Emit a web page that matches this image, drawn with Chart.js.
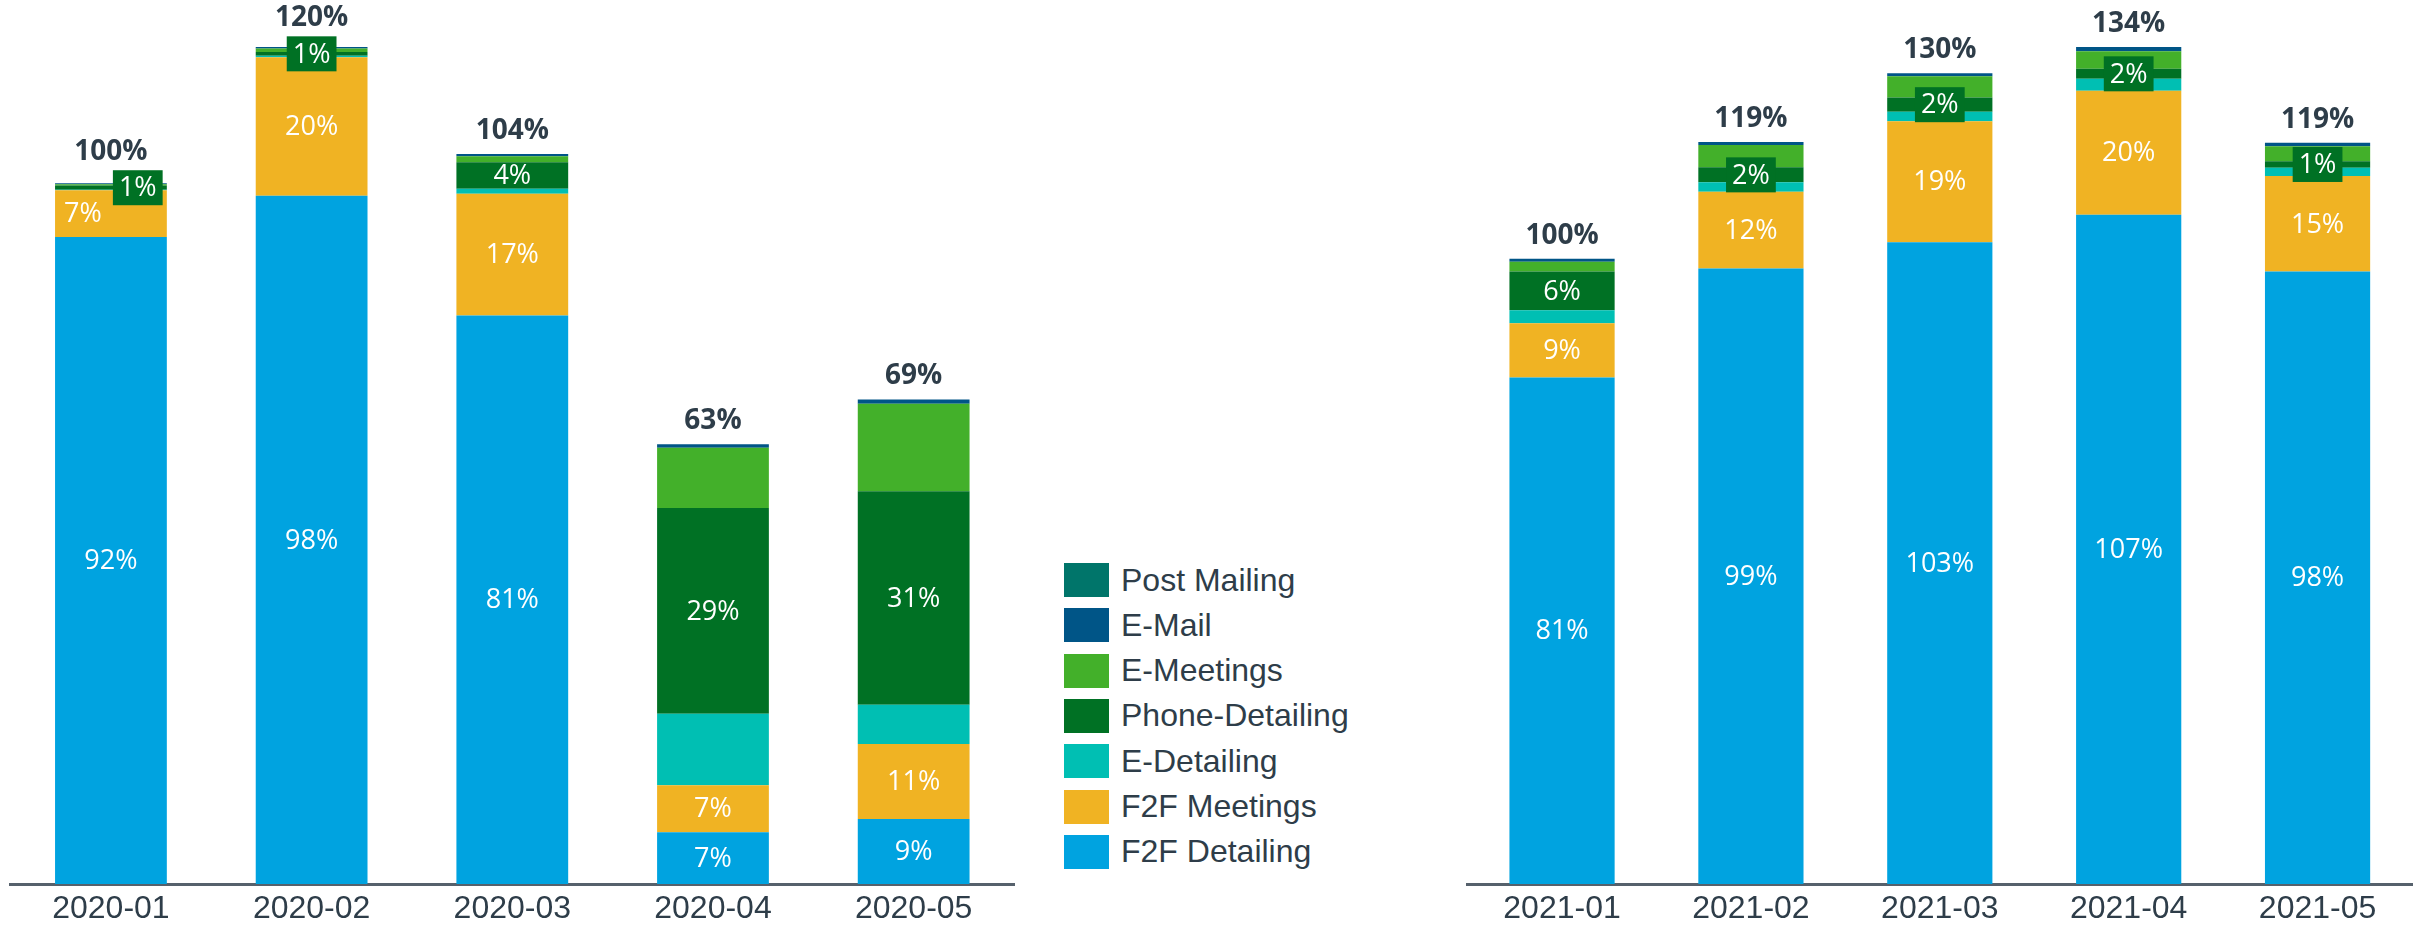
<!DOCTYPE html>
<html>
<head>
<meta charset="utf-8">
<script src="https://cdn.jsdelivr.net/npm/chart.js@4.4.1/dist/chart.umd.min.js"></script>
<style>
  body { margin: 0; width: 2425px; height: 925px; position: relative; background: #fff; overflow: hidden; }
  canvas { position: absolute; top: 0; }
  #legend { position: absolute; left: 1064px; top: 563px; font-family: "Liberation Sans", Arial, sans-serif; font-size: 32px; color: #2e3d49; }
  .row { position: absolute; left: 0; height: 34px; display: flex; align-items: center; white-space: nowrap; }
  .swatch { width: 45px; height: 34px; margin-right: 12px; }
</style>
</head>
<body>
<canvas id="chart2020" width="1030" height="925" style="left:0"></canvas>
<div id="legend"></div>
<canvas id="chart2021" width="985" height="925" style="left:1440px"></canvas>
<script>
// series, bottom of the stack first
const seriesNames = ['F2F Detailing', 'F2F Meetings', 'E-Detailing', 'Phone-Detailing', 'E-Meetings', 'E-Mail', 'Post Mailing'];
const seriesColors = ['#00a3e0', '#f0b323', '#00bfb3', '#007124', '#43b02a', '#005587', '#00756a'];

const months2020 = ['2020-01', '2020-02', '2020-03', '2020-04', '2020-05'];
const f2fDetailing2020 = [92.4, 98.3, 81.2, 7.4, 9.3];
const f2fMeetings2020 = [6.7, 19.8, 17.4, 6.7, 10.7];
const eDetailing2020 = [0.05, 0.2, 0.7, 10.2, 5.6];
const phoneDetailing2020 = [0.6, 0.55, 3.8, 29.4, 30.5];
const eMeetings2020 = [0.2, 0.5, 0.86, 8.6, 12.5];
const eMail2020 = [0.15, 0.2, 0.3, 0.5, 0.6];
const postMailing2020 = [0, 0, 0, 0, 0];

const months2021 = ['2021-01', '2021-02', '2021-03', '2021-04', '2021-05'];
const f2fDetailing2021 = [81.2, 98.7, 102.9, 107.3, 98.2];
const f2fMeetings2021 = [8.7, 12.3, 19.4, 19.9, 15.3];
const eDetailing2021 = [2.1, 1.5, 1.5, 1.9, 1.33];
const phoneDetailing2021 = [6.2, 2.4, 2.3, 1.6, 1.07];
const eMeetings2021 = [1.55, 3.6, 3.4, 2.8, 2.4];
const eMail2021 = [0.5, 0.48, 0.48, 0.7, 0.53];
const postMailing2021 = [0, 0, 0, 0, 0];

// only these series get a value label inside the bar
const labelledSeries = ['F2F Detailing', 'F2F Meetings', 'Phone-Detailing'];

const textColor = '#2e3d49';

const segmentLabels = {
    id: 'segmentLabels',
    afterDatasetsDraw(chart) {
        const ctx = chart.ctx;
        const n = chart.data.labels.length;
        const meetIdx = seriesNames.indexOf('F2F Meetings');
        const phoneIdx = seriesNames.indexOf('Phone-Detailing');
        ctx.save();
        ctx.textAlign = 'center';
        ctx.textBaseline = 'middle';
        for (let i = 0; i < n; i++) {
            const phoneBar = chart.getDatasetMeta(phoneIdx).data[i];
            const meetBar = chart.getDatasetMeta(meetIdx).data[i];
            const phoneY = (phoneBar.y + phoneBar.base) / 2;
            const meetY = (meetBar.y + meetBar.base) / 2;
            const boxed = Math.abs(phoneBar.base - phoneBar.y) < 24;
            let phoneShift = 0, meetShift = 0;
            if (boxed && phoneY + 17.5 > meetY - 12) {
                // small label box would sit on the meetings label: push them apart
                phoneShift = phoneBar.width * 0.24;
                meetShift = -meetBar.width * 0.25;
            }
            ctx.font = '27px "Open Sans"';
            labelledSeries.forEach(name => {
                const k = seriesNames.indexOf(name);
                const bar = chart.getDatasetMeta(k).data[i];
                const v = chart.data.datasets[k].data[i];
                const txt = Math.round(v) + '%';
                let x = bar.x;
                const y = (bar.y + bar.base) / 2;
                if (k === phoneIdx) {
                    x += phoneShift;
                    if (boxed) {
                        const w = ctx.measureText(txt).width + 12;
                        ctx.fillStyle = seriesColors[k];
                        ctx.fillRect(x - w / 2, y - 17.5, w, 35);
                    }
                }
                if (k === meetIdx) x += meetShift;
                ctx.fillStyle = '#ffffff';
                ctx.fillText(txt, x, y + 1);
            });
            // total on top
            let total = 0;
            chart.data.datasets.forEach(d => { total += d.data[i]; });
            const top = chart.scales.y.getPixelForValue(total);
            let ty = top - 23;
            if (boxed) ty = Math.min(ty, phoneY - 17.5 - 18);
            ctx.font = 'bold 28px "Open Sans"';
            ctx.fillStyle = textColor;
            ctx.fillText(Math.round(total) + '%', chart.scales.x.getPixelForValue(i), ty);
        }
        ctx.restore();
    }
};

function makeChart(id, labels, values, padding) {
    const datasets = seriesNames.map((name, k) => ({
        label: name,
        data: values[k],
        backgroundColor: seriesColors[k],
        borderWidth: 0,
        categoryPercentage: 1,
        barPercentage: 0.557,
    }));
    const totals = labels.map((_, i) => values.reduce((s, arr) => s + arr[i], 0));
    return new Chart(document.getElementById(id), {
        type: 'bar',
        data: { labels: labels, datasets: datasets },
        options: {
            responsive: false,
            animation: false,
            devicePixelRatio: 1,
            layout: { padding: padding },
            plugins: {
                legend: { display: false },
                tooltip: { enabled: false },
            },
            scales: {
                x: {
                    stacked: true,
                    grid: { display: false, drawTicks: false },
                    border: { display: true, color: '#56616c', width: 3 },
                    ticks: {
                        color: textColor,
                        padding: 9,
                        font: { family: '"Liberation Sans", Arial, sans-serif', size: 32, lineHeight: 1 },
                    },
                    afterFit(scale) { scale.height = 41; },
                },
                y: { stacked: true, display: false, min: 0, max: Math.max(...totals) },
            },
        },
        plugins: [segmentLabels],
    });
}

makeChart('chart2020', months2020,
    [f2fDetailing2020, f2fMeetings2020, eDetailing2020, phoneDetailing2020, eMeetings2020, eMail2020, postMailing2020],
    { left: 10.6, right: 16, top: 47, bottom: 0 });

makeChart('chart2021', months2021,
    [f2fDetailing2021, f2fMeetings2021, eDetailing2021, phoneDetailing2021, eMeetings2021, eMail2021, postMailing2021],
    { left: 27.6, right: 13, top: 47, bottom: 0 });

// legend, top of the stack first
const legend = document.getElementById('legend');
seriesNames.slice().reverse().forEach((name, i) => {
    const row = document.createElement('div');
    row.className = 'row';
    row.style.top = (i * 45.33) + 'px';
    const sw = document.createElement('span');
    sw.className = 'swatch';
    sw.style.background = seriesColors[seriesNames.indexOf(name)];
    row.appendChild(sw);
    row.appendChild(document.createTextNode(name));
    legend.appendChild(row);
});
</script>
</body>
</html>
